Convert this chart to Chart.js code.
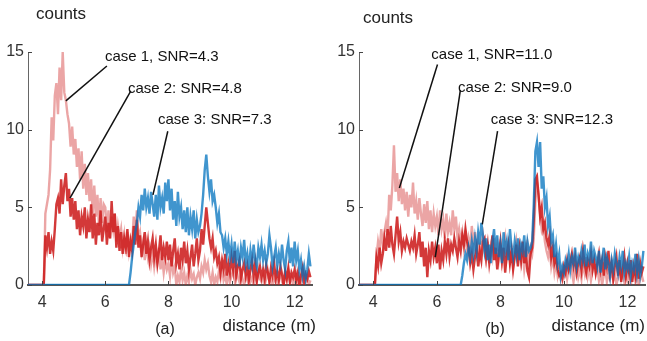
<!DOCTYPE html>
<html lang="en">
<head>
<meta charset="UTF-8">
<title>counts vs distance</title>
<script src="https://cdn.jsdelivr.net/npm/chart.js"></script>
<style>
  body { margin: 0; background: #fff; }
  #wrap { position: relative; width: 647px; height: 341px; }
  canvas { position: absolute; top: 0; }
</style>
</head>
<body>
<div id="wrap">
  <canvas id="chartA" width="323" height="341" style="left:0"></canvas>
  <canvas id="chartB" width="324" height="341" style="left:323px"></canvas>
</div>
<script>
// sampling grid: 3.55 m .. 12.50 m, every 0.05 m
const distStart = 3.55, distStep = 0.05;
const xTicks = [4, 6, 8, 10, 12];
const yTicks = [0, 5, 10, 15];

// panel (a)
const a1 = [0,0,0,0,0,0,0,0,0,
  0,0,4.6,5.2,5.8,7.4,10.8,9.3,12.2,13.0,
  11.0,14.0,11.9,15.0,12.4,11.9,11.0,10.4,8.9,10.2,
  8.4,9.4,7.6,8.8,6.8,8.6,6.2,7.8,5.8,7.2,
  5.4,6.8,4.6,6.4,4.4,5.8,3.8,5.6,4.0,5.2,
  5.0,3.4,4.8,3.0,4.4,3.6,4.6,2.8,3.8,3.0,
  3.6,2.4,3.2,2.0,3.4,2.2,3.0,2.6,4.4,3.2,
  4.8,3.0,3.4,2.2,2.8,1.6,2.6,1.8,2.4,1.4,
  2.2,1.2,2.0,1.4,2.4,1.0,1.8,0.8,1.6,1.0,
  1.4,0.6,1.8,0.8,1.2,0.0,0.6,0.2,1.0,0.3,
  0.8,0.0,0.6,0.2,1.0,0.4,0.7,0.0,0.5,0.8,
  0.4,1.2,0.8,1.6,1.0,1.4,0.6,0.2,0.8,0.0,
  0.5,0.2,0.9,0.4,1.1,0.3,0.6,0.0,0.8,0.2,
  0.6,0.9,0.3,1.2,0.5,0.2,0.8,0.4,0.0,0.6,
  0.3,0.8,0.2,0.5,0.0,0.7,0.3,1.0,0.4,0.2,
  0.6,0.0,0.4,0.9,0.2,0.5,0.0,0.3,0.7,0.1,
  0.4,0.8,0.2,0.0,0.6,0.3,0.9,0.2,0.5,0.0,
  0.3,0.7,0.1,0.5,0.0,0.4,0.8,0.2,0.6,0.0,
  0.3];
const a2 = [0,0,0,0,0,0,0,0,0,
  0,0,3.2,2.4,3.4,2.0,2.8,2.2,3.6,5.2,
  5.6,4.6,6.8,5.2,6.4,7.2,5.4,6.2,4.4,5.6,
  4.2,5.4,3.6,4.8,3.2,4.4,3.8,5.0,3.0,4.2,
  3.4,5.2,3.0,4.6,2.6,4.0,3.2,4.8,2.8,3.6,
  4.4,2.6,4.0,3.0,5.4,3.4,4.6,2.4,3.8,2.2,
  3.4,2.0,3.0,2.4,3.6,1.8,2.8,2.2,3.8,2.6,
  4.2,2.4,3.2,1.8,2.6,3.4,2.0,2.8,1.6,2.4,
  3.0,1.8,2.6,1.4,2.2,3.2,1.6,2.4,1.8,2.8,
  1.6,2.6,1.2,2.2,3.0,1.4,2.0,1.0,2.4,1.6,
  2.8,1.4,2.2,1.0,1.8,2.6,1.2,2.0,3.0,1.6,
  2.2,3.6,2.6,3.8,5.0,4.0,3.0,2.4,3.0,1.8,
  2.2,1.4,1.8,0.8,1.6,1.0,2.0,0.6,1.4,0.8,
  1.8,1.0,2.2,0.6,1.2,1.6,0.4,1.0,1.4,0.6,
  1.2,0.3,1.0,1.6,0.6,1.4,0.2,0.8,1.2,0.5,
  1.0,0.4,1.3,0.8,0.2,1.1,0.6,1.4,0.4,0.9,
  0.3,1.2,0.7,0.0,0.9,0.4,1.1,0.2,0.8,0.5,
  1.0,0.3,0.8,0.0,0.6,1.1,0.2,0.7,0.4,0.9,
  0.5];
const a3 = [0,0,0,0,0,0,0,0,0,
  0,0,0,0,0,0,0,0,0,0,
  0,0,0,0,0,0,0,0,0,0,
  0,0,0,0,0,0,0,0,0,0,
  0,0,0,0,0,0,0,0,0,0,
  0,0,0,0,0,0,0,0,0,0,
  0,0,0,0,0,0,0.8,1.8,2.6,3.4,
  4.0,5.0,4.4,5.8,4.8,6.2,5.0,5.6,4.6,6.0,
  5.2,4.4,5.8,4.2,6.4,5.0,5.6,4.6,6.6,5.4,
  6.8,4.8,6.2,4.2,5.4,3.8,6.0,4.4,5.0,3.6,
  4.8,3.4,5.0,3.2,4.4,3.6,4.8,3.0,4.2,3.4,
  3.8,4.6,5.8,7.4,8.4,7.0,6.0,6.8,5.4,5.8,
  5.0,4.0,4.6,3.4,3.2,2.4,3.0,2.0,2.8,1.8,
  2.6,1.4,2.8,1.6,2.2,1.2,2.4,1.8,2.9,1.4,
  2.0,1.0,2.2,1.4,2.6,1.6,1.2,2.4,1.8,2.6,
  1.6,2.2,1.4,2.0,3.2,2.4,1.2,1.8,2.4,1.2,
  2.0,1.4,2.6,1.6,1.0,2.2,2.8,1.4,2.4,1.2,
  2.8,1.6,2.2,1.0,1.6,0.6,1.2,0.4,1.0,2.0,
  1.2];

// panel (b)
const b1 = [0,0,0,0,0,0,0,0,0,
  0,0,1.8,2.8,2.2,3.6,2.6,3.4,4.0,3.2,
  5.8,4.8,6.4,9.0,6.0,7.2,5.4,6.8,5.2,6.2,
  4.8,6.0,4.4,5.8,5.0,6.6,4.6,5.4,4.2,5.6,
  4.6,3.8,5.2,4.0,5.4,3.6,4.8,3.4,4.6,3.8,
  4.4,3.2,4.8,3.6,4.2,3.0,4.6,3.4,4.0,3.2,
  4.8,3.6,4.4,3.0,3.6,2.8,3.4,2.4,3.2,2.2,
  3.0,2.4,3.8,2.6,3.4,2.0,2.8,1.8,2.6,3.2,
  2.2,1.6,2.8,1.4,2.4,1.8,3.0,2.0,2.6,1.6,
  2.4,1.4,2.2,3.0,1.8,2.6,1.6,2.2,1.2,2.0,
  2.8,1.8,2.4,1.4,2.2,1.0,1.8,2.6,1.6,2.4,
  2.0,3.0,5.4,6.6,5.8,4.6,3.6,4.0,2.8,2.2,
  1.8,2.4,1.2,1.8,0.8,1.4,0.6,1.2,0.4,1.0,
  0.6,1.2,0.4,1.0,1.6,0.8,0.2,0.9,1.3,0.5,
  1.0,0.4,1.4,0.8,1.8,0.6,1.2,0.3,0.9,1.5,
  0.7,1.2,0.3,0.9,0.0,0.6,1.1,0.2,0.8,0.4,
  1.0,0.3,0.7,0.0,0.5,1.2,0.4,0.9,0.2,0.6,
  0.3,0.8,0.0,0.5,1.0,0.2,0.7,0.0,0.4,0.6,
  0.2];
const b2 = [0,0,0,0,0,0,0,0,0,
  0,0,1.8,1.2,2.4,1.4,2.0,3.0,2.2,3.6,
  2.4,3.8,2.6,2.0,3.2,4.4,2.8,3.4,2.2,2.8,
  2.4,3.0,2.6,2.2,2.8,2.4,3.2,2.0,2.6,3.4,
  1.8,2.8,1.2,2.4,0.5,2.2,1.6,2.8,1.8,2.4,
  1.4,2.6,1.0,2.2,1.6,2.8,2.0,3.0,1.8,2.6,
  2.2,3.0,2.4,1.8,2.8,2.2,3.2,2.6,3.6,2.8,
  2.4,1.4,2.0,1.0,1.8,2.4,1.2,2.2,1.6,2.8,
  3.0,1.8,2.6,1.4,2.2,3.2,1.6,2.4,1.0,2.0,
  2.8,1.6,2.4,0.8,2.0,2.6,1.4,2.2,1.0,1.8,
  2.6,1.2,2.4,1.6,2.8,1.4,2.2,0.9,0.5,2.0,
  2.4,4.2,6.8,7.0,5.8,4.4,5.0,3.6,4.0,3.0,
  2.6,3.2,1.8,2.4,1.4,1.8,1.0,0.6,0.8,0.4,
  1.2,0.8,1.6,1.0,1.4,2.0,1.2,1.8,0.8,1.4,
  1.8,1.0,2.2,1.4,0.8,1.6,1.2,2.0,1.0,1.6,
  0.8,1.4,2.0,1.0,1.6,0.6,1.8,1.2,2.2,0.8,
  1.4,0.4,1.2,1.8,0.6,1.6,0.2,1.0,1.8,0.6,
  1.4,0.8,1.6,0.2,1.2,0.6,2.0,0.4,1.4,0.8,
  1.2];
const b3 = [0,0,0,0,0,0,0,0,0,
  0,0,0,0,0,0,0,0,0,0,
  0,0,0,0,0,0,0,0,0,0,
  0,0,0,0,0,0,0,0,0,0,
  0,0,0,0,0,0,0,0,0,0,
  0,0,0,0,0,0,0,0,0,0,
  0,0,0,0,0,0,0.6,1.4,2.0,1.6,
  2.4,1.8,2.8,2.0,3.0,2.2,3.4,2.6,4.0,3.2,
  2.2,3.0,1.6,2.6,1.4,2.8,3.6,2.0,3.2,1.8,
  2.6,1.4,3.4,2.2,2.8,1.6,3.6,2.4,1.8,2.8,
  2.0,3.0,1.6,2.6,2.2,3.2,1.8,2.8,2.2,2.4,
  2.8,5.2,8.6,9.2,7.6,9.2,6.2,7.0,5.0,5.6,
  3.8,4.4,2.8,3.2,1.8,2.6,1.4,2.0,0.6,1.2,
  0.8,1.6,1.2,2.0,1.0,1.8,1.4,2.4,1.2,1.8,
  1.4,2.2,1.6,2.6,1.2,2.0,1.6,2.8,1.4,2.2,
  1.8,1.2,2.2,0.8,1.6,2.4,1.0,1.8,1.4,0.6,
  1.6,1.0,2.0,1.4,0.8,1.8,1.2,2.2,0.8,1.4,
  1.0,1.8,0.6,1.4,1.0,2.0,0.8,1.6,0.6,1.2,
  2.2];

// annotations (label text, label centre, leader line in data units)
const labelsA = ['case 1, SNR=4.3', 'case 2: SNR=4.8', 'case 3: SNR=7.3'];
const labelXA = [7.79, 8.52, 9.47], labelYA = [14.7, 12.65, 10.6];
const lineA = [[6.05, 14.1, 4.75, 11.85], [6.81, 12.5, 4.88, 5.6], [7.98, 9.9, 7.51, 5.8]];
const labelsB = ['case 1, SNR=11.0', 'case 2: SNR=9.0', 'case 3: SNR=12.3'];
const labelXB = [7.73, 8.46, 9.62], labelYB = [14.8, 12.7, 10.6];
const lineB = [[6.02, 14.2, 4.82, 6.25], [6.74, 12.55, 5.95, 1.8], [7.91, 9.9, 7.43, 3.9]];

const FONT = '"Liberation Sans", Arial, sans-serif';

function pts(vals) {
  return vals.map((v, i) => ({ x: +(distStart + i * distStep).toFixed(2), y: v }));
}

const decor = {
  id: 'decor',
  afterDatasetsDraw(chart, args, o) {
    const { ctx, scales: { x, y } } = chart;
    ctx.save();
    // inward tick marks
    ctx.strokeStyle = '#444';
    ctx.lineWidth = 1;
    ctx.beginPath();
    xTicks.forEach(v => {
      const px = Math.round(x.getPixelForValue(v)) + 0.5;
      ctx.moveTo(px, y.bottom); ctx.lineTo(px, y.bottom - 4);
    });
    yTicks.forEach(v => {
      const py = Math.round(y.getPixelForValue(v)) + 0.5;
      ctx.moveTo(x.left, py); ctx.lineTo(x.left + 4, py);
    });
    ctx.stroke();

    // leader lines
    ctx.strokeStyle = '#111';
    ctx.lineWidth = 1.5;
    o.lines.forEach(l => {
      ctx.beginPath();
      ctx.moveTo(x.getPixelForValue(l[0]), y.getPixelForValue(l[1]));
      ctx.lineTo(x.getPixelForValue(l[2]), y.getPixelForValue(l[3]));
      ctx.stroke();
    });

    // labels
    ctx.fillStyle = '#111';
    ctx.font = '15px ' + FONT;
    ctx.textAlign = 'center';
    ctx.textBaseline = 'middle';
    o.labels.forEach((t, i) => {
      ctx.fillText(t, x.getPixelForValue(o.lx[i]), y.getPixelForValue(o.ly[i]));
    });

    // axis titles and panel tag
    ctx.fillStyle = '#222';
    ctx.font = '17px ' + FONT;
    ctx.textAlign = 'left';
    ctx.fillText('counts', x.left + o.countsDx, o.countsY);
    ctx.textAlign = 'right';
    ctx.fillText('distance (m)', x.right + o.distDx, 326);
    ctx.textAlign = 'center';
    ctx.font = '16px ' + FONT;
    ctx.fillText(o.tag, o.tagX, 330);
    ctx.restore();
  }
};

function makeChart(id, s1, s2, s3, yWidth, padRight, extra) {
  new Chart(document.getElementById(id), {
    type: 'line',
    data: {
      datasets: [
        { data: pts(s1), borderColor: 'rgba(205,30,30,0.4)', order: 3 },
        { data: pts(s2), borderColor: 'rgba(205,30,30,0.88)', order: 2 },
        { data: pts(s3), borderColor: 'rgba(0,114,189,0.75)', order: 1 }
      ]
    },
    options: {
      responsive: false,
      animation: false,
      parsing: false,
      elements: { point: { radius: 0 }, line: { borderWidth: 2.4, tension: 0 } },
      layout: { padding: { top: 52, right: padRight, left: 0, bottom: 0 } },
      plugins: { legend: { display: false }, tooltip: { enabled: false }, decor: extra },
      scales: {
        x: {
          type: 'linear', min: 3.55, max: 12.55,
          afterBuildTicks: s => { s.ticks = xTicks.map(v => ({ value: v })); },
          afterFit: s => { s.height = 56; },
          grid: { display: false, drawTicks: false },
          border: { display: true, color: '#555', width: 2 },
          ticks: { padding: 8, color: '#333', font: { size: 16, family: FONT }, maxRotation: 0 }
        },
        y: {
          min: 0, max: 15,
          afterBuildTicks: s => { s.ticks = yTicks.map(v => ({ value: v })); },
          afterFit: s => { s.width = yWidth; },
          grid: { display: false, drawTicks: false },
          border: { display: true, color: '#666', width: 1 },
          ticks: { padding: 4, color: '#333', font: { size: 16, family: FONT } }
        }
      }
    },
    plugins: [decor]
  });
}

makeChart('chartA', a1, a2, a3, 28, 11,
  { labels: labelsA, lx: labelXA, ly: labelYA, lines: lineA, countsDx: 8, countsY: 14, distDx: 4, tag: '(a)', tagX: 165 });
makeChart('chartB', b1, b2, b3, 36, 2,
  { labels: labelsB, lx: labelXB, ly: labelYB, lines: lineB, countsDx: 4, countsY: 18, distDx: 0, tag: '(b)', tagX: 172 });
</script>
</body>
</html>
